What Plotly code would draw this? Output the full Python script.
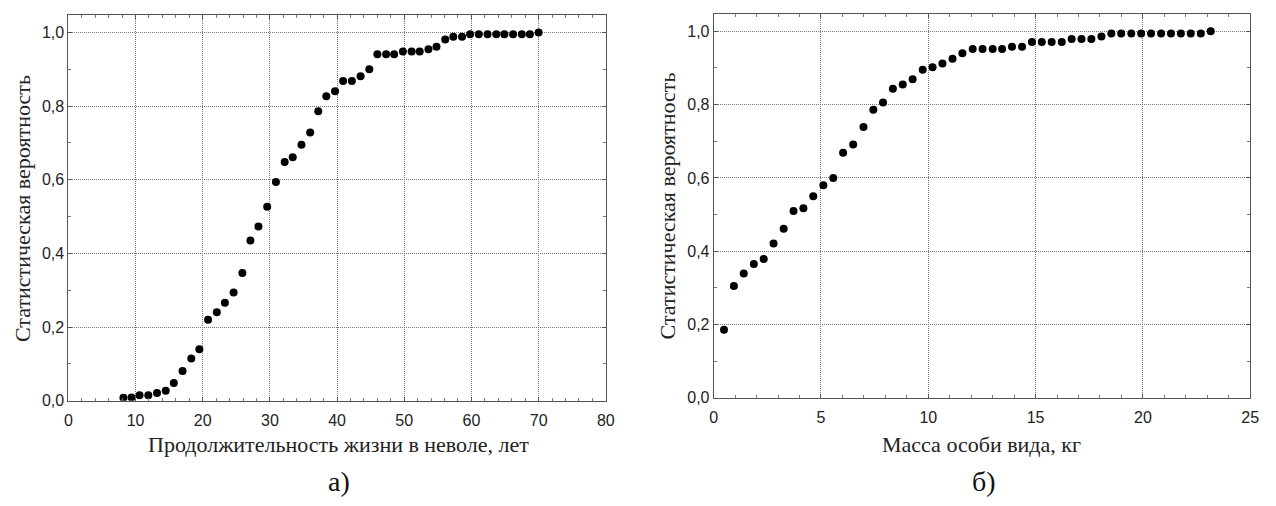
import plotly.graph_objects as go

# Panel а): lifespan in captivity, years -> cumulative probability
life_years = [8.2, 9.4, 10.6, 11.9, 13.2, 14.5, 15.7, 17.0, 18.3, 19.5,
              20.8, 22.1, 23.3, 24.6, 25.9, 27.1, 28.3, 29.6, 30.9, 32.2,
              33.4, 34.7, 36.0, 37.2, 38.4, 39.7, 40.9, 42.2, 43.5, 44.8,
              46.0, 47.3, 48.5, 49.8, 51.1, 52.3, 53.6, 54.8, 56.1, 57.3,
              58.6, 59.8, 61.1, 62.4, 63.7, 64.9, 66.2, 67.5, 68.7, 70.0]
life_prob = [0.008, 0.009, 0.015, 0.015, 0.021, 0.027, 0.048, 0.081, 0.115, 0.140,
             0.220, 0.240, 0.266, 0.294, 0.347, 0.435, 0.473, 0.527, 0.594, 0.648,
             0.661, 0.695, 0.728, 0.786, 0.827, 0.840, 0.868, 0.868, 0.881, 0.900,
             0.941, 0.941, 0.941, 0.948, 0.948, 0.948, 0.954, 0.961, 0.981, 0.988,
             0.988, 0.995, 0.995, 0.995, 0.995, 0.995, 0.995, 0.995, 0.995, 1.000]

# Panel б): body mass, kg -> cumulative probability
mass_kg = [0.48, 0.94, 1.40, 1.87, 2.33, 2.79, 3.26, 3.72, 4.18, 4.64,
           5.11, 5.57, 6.03, 6.50, 6.98, 7.44, 7.89, 8.35, 8.81, 9.27,
           9.74, 10.20, 10.66, 11.13, 11.59, 12.07, 12.53, 13.00, 13.44, 13.90,
           14.37, 14.83, 15.29, 15.75, 16.22, 16.68, 17.14, 17.60, 18.07, 18.53,
           18.99, 19.46, 19.92, 20.38, 20.85, 21.31, 21.77, 22.23, 22.70, 23.16]
mass_prob = [0.186, 0.305, 0.339, 0.365, 0.379, 0.421, 0.461, 0.510, 0.517, 0.550,
             0.580, 0.600, 0.669, 0.691, 0.739, 0.786, 0.806, 0.843, 0.855, 0.869,
             0.895, 0.902, 0.912, 0.925, 0.940, 0.952, 0.952, 0.952, 0.952, 0.958,
             0.958, 0.971, 0.971, 0.971, 0.971, 0.979, 0.979, 0.979, 0.986, 0.994,
             0.994, 0.994, 0.994, 0.994, 0.994, 0.994, 0.994, 0.994, 0.994, 1.000]

y_title = "Статистическая вероятность"
x_title_a = "Продолжительность жизни в неволе, лет"
x_title_b = "Масса особи вида, кг"

W, H = 1276, 506
SERIF = "Liberation Serif, Times New Roman, serif"
SANS = "Liberation Sans, Arial, sans-serif"

fig = go.Figure()
marker = dict(color="black", size=8, line=dict(width=0))
fig.add_trace(go.Scatter(x=life_years, y=life_prob, mode="markers",
                         marker=marker, xaxis="x", yaxis="y", showlegend=False))
fig.add_trace(go.Scatter(x=mass_kg, y=mass_prob, mode="markers",
                         marker=marker, xaxis="x2", yaxis="y2", showlegend=False))

def px_x(p):
    return p / W

def px_y(p):
    return 1 - p / H

axis_common = dict(
    showline=True, linecolor="#555", linewidth=1, mirror="allticks",
    ticks="inside", ticklen=4, tickcolor="#555",
    showgrid=True, gridcolor="#777", griddash="1px,1px", gridwidth=1,
    zeroline=False,
    tickfont=dict(family=SANS, size=16, color="#222"),
)
minor_common = dict(ticks="inside", ticklen=3, tickcolor="#777", showgrid=False)

fig.update_layout(
    width=W, height=H,
    margin=dict(l=0, r=0, t=0, b=0),
    paper_bgcolor="white", plot_bgcolor="white",
    separators=", ",
    xaxis=dict(domain=[px_x(65), px_x(608)], range=[0, 80], dtick=10,
               anchor="y", ticklabelstandoff=5,
               minor=dict(dtick=2, **minor_common), **axis_common),
    yaxis=dict(domain=[px_y(408), px_y(15)], range=[0, 1.048], dtick=0.2,
               tickformat=".1f", anchor="x",
               minor=dict(dtick=0.1, **minor_common), **axis_common),
    xaxis2=dict(domain=[px_x(717), px_x(1259)], range=[0, 25], dtick=5,
                anchor="y2", ticklabelstandoff=5,
                minor=dict(dtick=1, **minor_common), **axis_common),
    yaxis2=dict(domain=[px_y(405), px_y(14)], range=[0, 1.048], dtick=0.2,
                tickformat=".1f", anchor="x2",
                minor=dict(dtick=0.1, **minor_common), **axis_common),
)

title_font = dict(family=SERIF, size=22, color="#222")
label_font = dict(family=SERIF, size=28, color="#111")

annotations = [
    dict(text=x_title_a, x=px_x(338), y=px_y(453), font=title_font),
    dict(text=x_title_b, x=px_x(988), y=px_y(453), font=title_font),
    dict(text=y_title, x=px_x(18), y=px_y(212), textangle=-90, font=title_font),
    dict(text=y_title, x=px_x(670), y=px_y(210), textangle=-90, font=title_font),
    dict(text="а)", x=px_x(338), y=px_y(490), font=label_font),
    dict(text="б)", x=px_x(990), y=px_y(490), font=label_font),
]
for a in annotations:
    a.update(xref="paper", yref="paper", showarrow=False,
             xanchor="center", yanchor="middle")
fig.update_layout(annotations=annotations)

fig.write_html("out.html")
